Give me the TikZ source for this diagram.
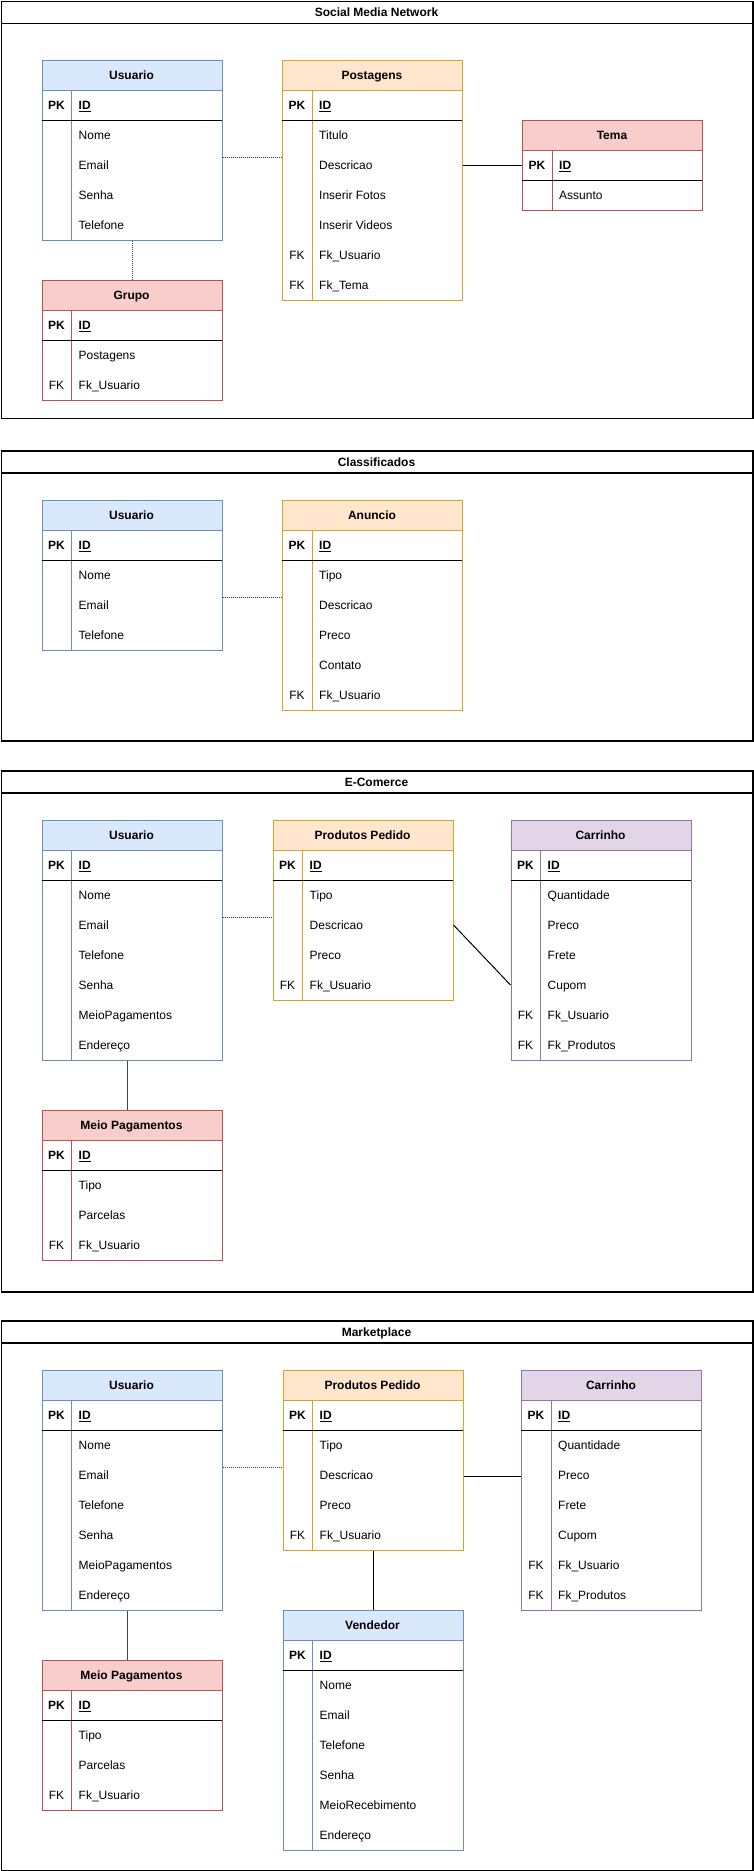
\documentclass[tikz,border=0pt]{standalone}
\usepackage{fontspec}
\setmainfont{Liberation Sans}
\usetikzlibrary{calc}

\definecolor{bluefill}{HTML}{DAE8FC}
\definecolor{bluedraw}{HTML}{6C8EBF}
\definecolor{orangefill}{HTML}{FFE6CC}
\definecolor{orangedraw}{HTML}{D6A42B}
\definecolor{redfill}{HTML}{F8CECC}
\definecolor{reddraw}{HTML}{B85450}
\definecolor{purplefill}{HTML}{E1D5E7}
\definecolor{purpledraw}{HTML}{9673A6}
\definecolor{linkgray}{HTML}{444444}

\tikzset{
  cell/.style={inner sep=0pt, text height=8.6pt, text depth=0pt,
    font=\fontsize{12}{14}\selectfont},
  boldcell/.style={cell, font=\fontsize{12}{14}\selectfont\bfseries},
  framebox/.style={draw=black, line width=1.5pt, inner sep=0pt,
    minimum width=751.5pt, anchor=north west},
  softlink/.style={draw=linkgray, line width=1pt, dash pattern=on 1pt off 1pt},
  hardlink/.style={draw=black, line width=1pt},
}

% Entity table: name, x, y, colour prefix, title, number of fields, key/field list
\newcommand{\ertable}[7]{%
  \pgfmathsetmacro{\tabh}{60+30*#6}
  \fill[#4fill] (#2,#3) rectangle ++(180,30);
  \node[draw=#4draw, line width=1pt, inner sep=0pt, minimum width=180pt,
        minimum height=\tabh pt, anchor=north west] (#1) at (#2,#3) {};
  \draw[#4draw, line width=1pt] (#2,#3+30) -- ++(180,0);
  \draw[#4draw, line width=1pt] (#2+30,#3+30) -- (#2+30,#3+\tabh);
  \draw[black, line width=1pt] (#2,#3+60) -- ++(180,0);
  \node[boldcell] (#1-title) at (#2+90,#3+15) {#5};
  \node[boldcell] (#1-pk) at (#2+15,#3+45) {PK};
  \node[boldcell, anchor=west] (#1-id) at (#2+37,#3+45) {\underline{ID}};
  \foreach \k/\t [count=\i] in {#7} {
    \node[cell] (#1-k\i) at (#2+15,#3+45+30*\i) {\k};
    \node[cell, anchor=west] (#1-f\i) at (#2+37,#3+45+30*\i) {\t};
  }
}

% Titled frame: name, top, bottom, title
\newcommand{\erframe}[4]{%
  \pgfmathsetmacro{\frh}{#3-#2}
  \node[framebox, minimum height=\frh pt] (#1) at (0.75,#2) {};
  \draw[black, line width=1.5pt] (0.75,#2+22.7) -- (752.25,#2+22.7);
  \node[boldcell] (#1-title) at (376.5,#2+11.6) {#4};
}

\begin{document}
\begin{tikzpicture}[x=1pt,y=-1pt]
\useasboundingbox (0,0) rectangle (753,1871);
\fill[white] (0,0) rectangle (753,1871);

% ---------------- Social Media Network ----------------
\erframe{social}{0.75}{417.5}{Social Media Network}
\ertable{s-user}{41.5}{60}{blue}{Usuario}{4}{/Nome,/Email,/Senha,/Telefone}
\ertable{s-post}{282}{60}{orange}{Postagens}{6}{/Titulo,/Descricao,/Inserir Fotos,/Inserir Videos,FK/Fk\_Usuario,FK/Fk\_Tema}
\ertable{s-tema}{522}{120}{red}{Tema}{1}{/Assunto}
\ertable{s-grupo}{41.5}{280}{red}{Grupo}{2}{/Postagens,FK/Fk\_Usuario}
\draw[softlink] ($(s-user.north east)+(0,97)$) -- ($(s-post.north west)+(0,97)$);
\draw[hardlink] ($(s-post.north east)+(0,105)$) -- ($(s-tema.north west)+(0,45)$);
\draw[softlink] (s-user.south) -- (s-grupo.north);

% ---------------- Classificados ----------------
\erframe{class}{450.3}{740.3}{Classificados}
\ertable{c-user}{41.5}{500}{blue}{Usuario}{3}{/Nome,/Email,/Telefone}
\ertable{c-anun}{282}{500}{orange}{Anuncio}{5}{/Tipo,/Descricao,/Preco,/Contato,FK/Fk\_Usuario}
\draw[softlink] ($(c-user.north east)+(0,97)$) -- ($(c-anun.north west)+(0,97)$);

% ---------------- E-Comerce ----------------
\erframe{ecom}{770.3}{1291}{E-Comerce}
\ertable{e-user}{41.5}{820}{blue}{Usuario}{6}{/Nome,/Email,/Telefone,/Senha,/MeioPagamentos,/Endereço}
\ertable{e-prod}{272.5}{820}{orange}{Produtos Pedido}{4}{/Tipo,/Descricao,/Preco,FK/Fk\_Usuario}
\ertable{e-cart}{510.5}{820}{purple}{Carrinho}{6}{/Quantidade,/Preco,/Frete,/Cupom,FK/Fk\_Usuario,FK/Fk\_Produtos}
\ertable{e-meio}{41.5}{1110}{red}{Meio Pagamentos}{3}{/Tipo,/Parcelas,FK/Fk\_Usuario}
\draw[softlink] ($(e-user.north east)+(0,97)$) -- ($(e-prod.north west)+(0,97)$);
\draw[hardlink] ($(e-prod.north east)+(0,105)$) -- ($(e-cart.north west)+(0,165)$);
\draw[hardlink, draw=linkgray] ($(e-user.south west)+(85.5,0)$) -- ($(e-meio.north west)+(85.5,0)$);

% ---------------- Marketplace ----------------
\erframe{market}{1320.4}{1870}{Marketplace}
\ertable{m-user}{41.5}{1370}{blue}{Usuario}{6}{/Nome,/Email,/Telefone,/Senha,/MeioPagamentos,/Endereço}
\ertable{m-prod}{282.5}{1370}{orange}{Produtos Pedido}{4}{/Tipo,/Descricao,/Preco,FK/Fk\_Usuario}
\ertable{m-cart}{521}{1370}{purple}{Carrinho}{6}{/Quantidade,/Preco,/Frete,/Cupom,FK/Fk\_Usuario,FK/Fk\_Produtos}
\ertable{m-vend}{282.5}{1610}{blue}{Vendedor}{6}{/Nome,/Email,/Telefone,/Senha,/MeioRecebimento,/Endereço}
\ertable{m-meio}{41.5}{1660}{red}{Meio Pagamentos}{3}{/Tipo,/Parcelas,FK/Fk\_Usuario}
\draw[softlink] ($(m-user.north east)+(0,97)$) -- ($(m-prod.north west)+(0,97)$);
\draw[hardlink] ($(m-prod.north east)+(0,106)$) -- ($(m-cart.north west)+(0,106)$);
\draw[hardlink] (m-prod.south) -- (m-vend.north);
\draw[hardlink, draw=linkgray] ($(m-user.south west)+(85.5,0)$) -- ($(m-meio.north west)+(85.5,0)$);
\end{tikzpicture}
\end{document}
